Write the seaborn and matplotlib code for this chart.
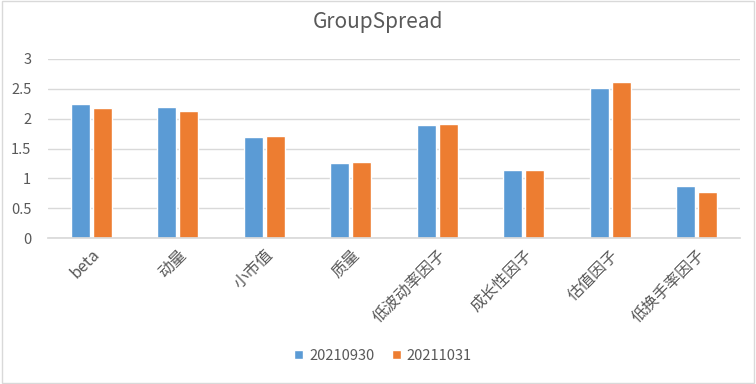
import matplotlib
matplotlib.use("Agg")
import matplotlib.pyplot as plt
import seaborn as sns
import pandas as pd

categories = ["beta", "动量", "小市值", "质量", "低波动率因子", "成长性因子", "估值因子", "低换手率因子"]
series_names = ["20210930", "20211031"]
values_0930 = [2.24, 2.20, 1.69, 1.25, 1.89, 1.14, 2.51, 0.87]
values_1031 = [2.18, 2.13, 1.71, 1.28, 1.91, 1.14, 2.61, 0.77]
yticks = [0, 0.5, 1, 1.5, 2, 2.5, 3]
ytick_labels = ["0", "0.5", "1", "1.5", "2", "2.5", "3"]

df = pd.DataFrame({
    "cat": categories * 2,
    "val": values_0930 + values_1031,
    "series": [series_names[0]] * len(categories) + [series_names[1]] * len(categories),
})

sns.set_theme(style="white")
plt.rcParams["font.family"] = ["Noto Sans CJK SC", "DejaVu Sans"]

fig = plt.figure(figsize=(7.56, 3.84), dpi=100)
ax = fig.add_axes([48/756, 1 - 238/384, (740-48)/756, (238-59)/384])
sns.barplot(data=df, x="cat", y="val", hue="series", order=categories,
            palette=["#5B9BD5", "#ED7D31"], width=0.51, gap=0.14,
            ax=ax, legend=True, saturation=1)

ax.set_ylim(0, 3)
ax.set_xlim(-0.5, len(categories) - 0.5)
ax.set_yticks(yticks)
ax.set_yticklabels(ytick_labels, color="#595959", fontsize=10.5)
ax.yaxis.grid(True, color="#D9D9D9", linewidth=1)
ax.set_axisbelow(True)
for s in ["top", "right", "left"]:
    ax.spines[s].set_visible(False)
ax.spines["bottom"].set_color("#D9D9D9")
ax.tick_params(axis="y", length=0, pad=12)
ax.tick_params(axis="x", length=0, pad=6)
ax.set_xlabel("")
ax.set_ylabel("")
plt.setp(ax.get_xticklabels(), rotation=45, ha="right", rotation_mode="anchor",
         color="#595959", fontsize=11.5)

h, l = ax.get_legend_handles_labels()
ax.legend_.remove()
fig.legend(h, l, loc="center", bbox_to_anchor=(383/756, 1 - 356/384), ncol=2,
           frameon=False, fontsize=10.5, handlelength=0.6, handleheight=0.6,
           handletextpad=0.4, columnspacing=1.2, labelcolor="#595959")

fig.text(0.5, 1 - 22/384, "GroupSpread", ha="center", va="center",
         fontsize=15, color="#595959")

border = plt.Rectangle((0.002, 0.003), 0.995, 0.994, transform=fig.transFigure,
                       fill=False, edgecolor="#D9D9D9", linewidth=1)
fig.patches.append(border)

fig.savefig("out.png", dpi=100)
